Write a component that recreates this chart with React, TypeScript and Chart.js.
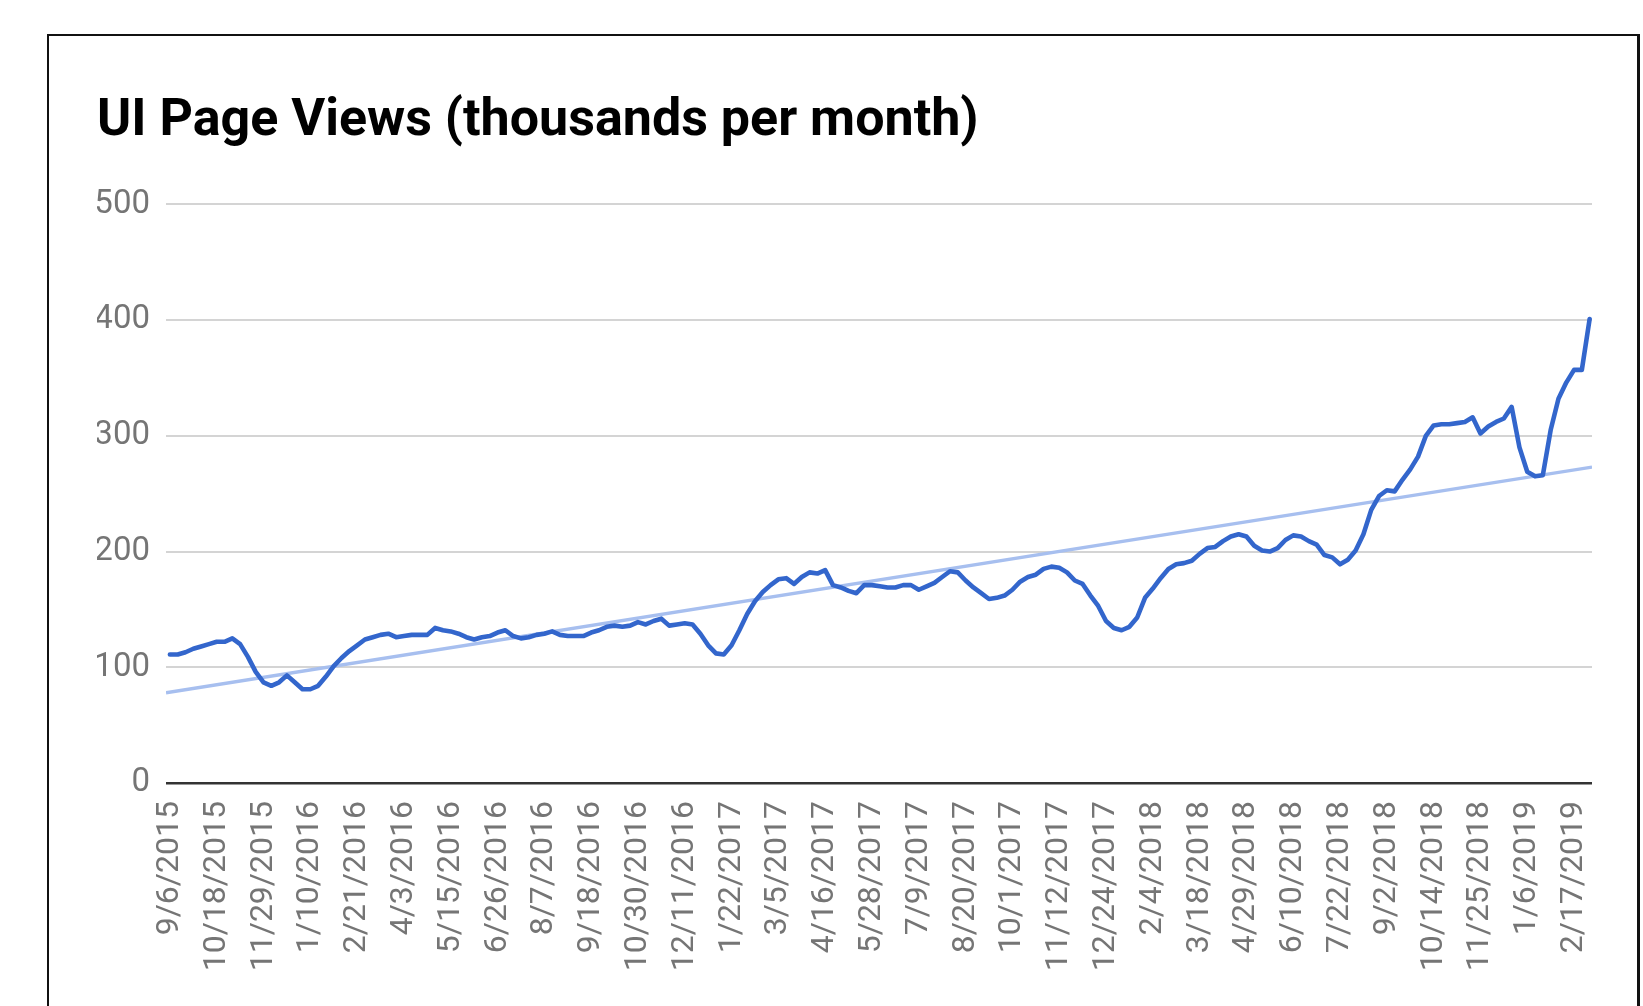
import React, { useEffect, useRef } from "react";
import { Chart, registerables } from "chart.js";

Chart.register(...registerables);

const TITLE = "UI Page Views (thousands per month)";

// Date labels shown on the x axis (one every 6 weekly points)
const tickLabels = [
  "9/6/2015", "10/18/2015", "11/29/2015", "1/10/2016", "2/21/2016", "4/3/2016",
  "5/15/2016", "6/26/2016", "8/7/2016", "9/18/2016", "10/30/2016", "12/11/2016",
  "1/22/2017", "3/5/2017", "4/16/2017", "5/28/2017", "7/9/2017", "8/20/2017",
  "10/1/2017", "11/12/2017", "12/24/2017", "2/4/2018", "3/18/2018", "4/29/2018",
  "6/10/2018", "7/22/2018", "9/2/2018", "10/14/2018", "11/25/2018", "1/6/2019",
  "2/17/2019",
];
const weeksPerTick = 6;

// Weekly page views (thousands), 9/6/2015 .. 3/3/2019
const pageViews = [
  111, 111, 113, 116, 118, 120, 122, 122, 125, 120,
  109, 96, 87, 84, 87, 93, 87, 81, 81, 84,
  92, 101, 108, 114, 119, 124, 126, 128, 129, 126,
  127, 128, 128, 128, 134, 132, 131, 129, 126, 124,
  126, 127, 130, 132, 127, 125, 126, 128, 129, 131,
  128, 127, 127, 127, 130, 132, 135, 136, 135, 136,
  139, 137, 140, 142, 136, 137, 138, 137, 129, 119,
  112, 111, 119, 132, 146, 157, 165, 171, 176, 177,
  172, 178, 182, 181, 184, 171, 169, 166, 164, 171,
  171, 170, 169, 169, 171, 171, 167, 170, 173, 178,
  183, 182, 175, 169, 164, 159, 160, 162, 167, 174,
  178, 180, 185, 187, 186, 182, 175, 172, 162, 153,
  140, 134, 132, 135, 143, 160, 168, 177, 185, 189,
  190, 192, 198, 203, 204, 209, 213, 215, 213, 205,
  201, 200, 203, 210, 214, 213, 209, 206, 197, 195,
  189, 193, 201, 215, 236, 248, 253, 252, 262, 271,
  282, 300, 309, 310, 310, 311, 312, 316, 302, 308,
  312, 315, 325, 290, 269, 265, 266, 305, 332, 346,
  357, 357, 401,
];

// Linear trendline end values
const trendStartValue = 78;
const trendEndValue = 273;

const yTicks = [0, 100, 200, 300, 400, 500];

export default function App() {
  const ref = useRef<HTMLCanvasElement>(null);

  useEffect(() => {
    const canvas = ref.current;
    if (!canvas) return;
    const lastIdx = pageViews.length - 1;
    const chart = new Chart(canvas, {
      type: "line",
      data: {
        datasets: [
          {
            label: "Page views",
            data: pageViews.map((v, i) => ({ x: i, y: v })),
            borderColor: "#3366cc",
            borderWidth: 4.6,
            pointRadius: 0,
            tension: 0,
            borderJoinStyle: "round",
            borderCapStyle: "round",
          },
          {
            label: "Trend",
            data: [
              { x: -0.5, y: trendStartValue },
              { x: lastIdx + 0.3, y: trendEndValue },
            ],
            borderColor: "#a7bfef",
            borderWidth: 3.4,
            pointRadius: 0,
            tension: 0,
          },
        ],
      },
      options: {
        animation: false,
        responsive: false,
        events: [],
        layout: { padding: { left: 97, top: 0, right: 51, bottom: 0 } },
        plugins: {
          legend: { display: false },
          tooltip: { enabled: false },
          title: {
            display: true,
            text: TITLE,
            align: "start",
            color: "#000",
            font: { family: "Roboto", size: 52, weight: "bold", lineHeight: 1.2 },
            padding: { top: 91, bottom: 51 },
          },
        },
        scales: {
          x: {
            type: "linear",
            min: -0.5,
            max: lastIdx + 0.3,
            afterFit: (s: any) => {
              s.height = 223;
            },
            afterBuildTicks: (s: any) => {
              s.ticks = tickLabels.map((_, k) => ({ value: k * weeksPerTick }));
            },
            grid: { display: false },
            border: { display: false },
            ticks: {
              autoSkip: false,
              maxRotation: 90,
              minRotation: 90,
              padding: 10,
              color: "#757575",
              font: { family: "Roboto", size: 32 },
              callback: (_v: any, index: number) => tickLabels[index] ?? "",
            },
          },
          y: {
            min: 0,
            max: 500,
            afterFit: (s: any) => {
              s.width = 69;
            },
            afterBuildTicks: (s: any) => {
              s.ticks = yTicks.map((v) => ({ value: v }));
            },
            grid: {
              drawTicks: false,
              color: (ctx: any) => (ctx.tick && ctx.tick.value === 0 ? "#333333" : "#d4d4d4"),
              lineWidth: (ctx: any) => (ctx.tick && ctx.tick.value === 0 ? 2.5 : 2),
            },
            border: { display: false },
            ticks: {
              padding: 16,
              color: "#757575",
              font: { family: "Roboto", size: 33 },
            },
          },
        },
      },
    });
    return () => chart.destroy();
  }, []);

  return (
    <div
      style={{
        position: "fixed",
        left: 0,
        top: 0,
        width: 1643,
        height: 1006,
        overflow: "hidden",
        background: "#ffffff",
      }}
    >
      <div
        style={{
          position: "absolute",
          left: 47,
          top: 34,
          width: 1588,
          height: 1100,
          borderLeft: "2px solid #111",
          borderTop: "2px solid #111",
          borderRight: "3px solid #111",
        }}
      />
      <canvas
        ref={ref}
        width={1643}
        height={1006}
        style={{ position: "absolute", left: 0, top: 0, width: 1643, height: 1006 }}
      />
    </div>
  );
}
